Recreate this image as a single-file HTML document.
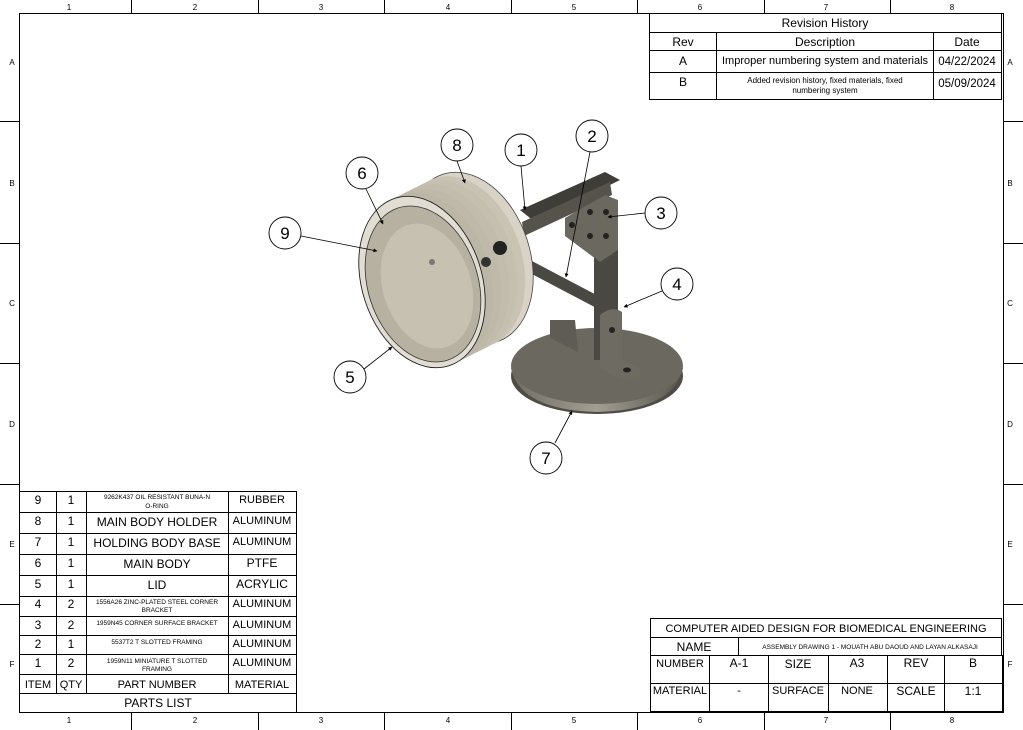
<!DOCTYPE html>
<html><head><style>
body{margin:0;background:#fff;}
svg{display:block;font-family:"Liberation Sans",Arial,sans-serif;}
</style></head><body>
<svg width="1023" height="730" viewBox="0 0 1023 730" xmlns="http://www.w3.org/2000/svg">
<defs>
<linearGradient id="base" x1="0" y1="0" x2="1" y2="0"><stop offset="0" stop-color="#6f6c62"/><stop offset="0.5" stop-color="#a29e92"/><stop offset="1" stop-color="#56544c"/></linearGradient>
<marker id="ar" viewBox="0 0 10 10" refX="9" refY="5" markerWidth="5" markerHeight="5" orient="auto"><path d="M0,0L10,5L0,10z" fill="#000"/></marker>
</defs>
<g stroke="#000" stroke-width="1" fill="none">
<rect x="19.5" y="13.5" width="984" height="699"/>
<path d="M131.5 0V13 M258.5 0V13 M384.5 0V13 M511.5 0V13 M637.5 0V13 M764.5 0V13 M890.5 0V13
M131.5 713V730 M258.5 713V730 M384.5 713V730 M511.5 713V730 M637.5 713V730 M764.5 713V730 M890.5 713V730
M0 121.5H19 M0 243.5H19 M0 363.5H19 M0 484.5H19 M0 604.5H19
M1004 121.5H1023 M1004 243.5H1023 M1004 363.5H1023 M1004 484.5H1023 M1004 604.5H1023"/>
<rect x="649.5" y="13.5" width="352" height="86" fill="#fff"/>
<path d="M649.5 32.5H1001.5 M649.5 50.5H1001.5 M649.5 72.5H1001.5 M716.5 32.5V99.5 M933.5 32.5V99.5"/>
<rect x="19.5" y="491.5" width="277" height="221" fill="#fff"/>
<path d="M19.5 512.5H296.5 M19.5 533.5H296.5 M19.5 554.5H296.5 M19.5 575.5H296.5 M19.5 596.5H296.5 M19.5 616.5H296.5 M19.5 635.5H296.5 M19.5 654.5H296.5 M19.5 674.5H296.5 M19.5 693.5H296.5
M56.5 491.5V693.5 M86.5 491.5V693.5 M228.5 491.5V693.5"/>
<rect x="650.5" y="618.5" width="351" height="37" fill="#fff"/>
<path d="M650.5 637.5H1001.5 M738.5 637.5V655.5"/>
<rect x="650.5" y="655.5" width="352" height="56"/>
<path d="M650.5 683.5H1002.5 M709.5 655.5V711.5 M768.5 655.5V711.5 M828.5 655.5V711.5 M887.5 655.5V711.5 M944.5 655.5V711.5"/>
</g>
<g font-size="8" text-anchor="middle" fill="#000">
<text x="69" y="10">1</text><text x="195" y="10">2</text><text x="321" y="10">3</text><text x="448" y="10">4</text><text x="574" y="10">5</text><text x="700" y="10">6</text><text x="826" y="10">7</text><text x="952" y="10">8</text>
<text x="69" y="723">1</text><text x="195" y="723">2</text><text x="321" y="723">3</text><text x="448" y="723">4</text><text x="574" y="723">5</text><text x="700" y="723">6</text><text x="826" y="723">7</text><text x="952" y="723">8</text>
<text x="12" y="65">A</text><text x="12" y="186">B</text><text x="12" y="306">C</text><text x="12" y="427">D</text><text x="12" y="547">E</text><text x="12" y="667">F</text>
<text x="1010" y="65">A</text><text x="1010" y="186">B</text><text x="1010" y="306">C</text><text x="1010" y="427">D</text><text x="1010" y="547">E</text><text x="1010" y="667">F</text>
</g>
<g font-size="12" text-anchor="middle" fill="#000">
<text x="825" y="27">Revision History</text>
<text x="683" y="46">Rev</text><text x="825" y="46">Description</text><text x="967" y="46">Date</text>
<text x="683" y="65">A</text><text x="825" y="64" font-size="11">Improper numbering system and materials</text><text x="967" y="65" font-size="11.5">04/22/2024</text>
<text x="683" y="86">B</text><text x="967" y="87" font-size="11.5">05/09/2024</text>
<text x="825" y="83" font-size="8">Added revision history, fixed materials, fixed</text>
<text x="825" y="93" font-size="8">numbering system</text>
</g>
<g font-size="12" text-anchor="middle" fill="#000">
<text x="38" y="504">9</text><text x="71" y="504">1</text><text x="262" y="503" font-size="11">RUBBER</text>
<text x="157" y="499" font-size="6.5">9262K437 OIL RESISTANT BUNA-N</text><text x="157" y="508" font-size="6.5">O-RING</text>
<text x="38" y="525">8</text><text x="71" y="525">1</text><text x="157" y="526">MAIN BODY HOLDER</text><text x="262" y="524" font-size="11">ALUMINUM</text>
<text x="38" y="546">7</text><text x="71" y="546">1</text><text x="157" y="547">HOLDING BODY BASE</text><text x="262" y="545" font-size="11">ALUMINUM</text>
<text x="38" y="567">6</text><text x="71" y="567">1</text><text x="157" y="568">MAIN BODY</text><text x="262" y="567">PTFE</text>
<text x="38" y="588">5</text><text x="71" y="588">1</text><text x="157" y="589">LID</text><text x="262" y="588">ACRYLIC</text>
<text x="38" y="608">4</text><text x="71" y="608">2</text><text x="262" y="607" font-size="11">ALUMINUM</text>
<text x="157" y="604" font-size="6.5">1556A26 ZINC-PLATED STEEL CORNER</text><text x="157" y="612" font-size="6.5">BRACKET</text>
<text x="38" y="629">3</text><text x="71" y="629">2</text><text x="157" y="625" font-size="6.5">1959N45 CORNER SURFACE BRACKET</text><text x="262" y="628" font-size="11">ALUMINUM</text>
<text x="38" y="648">2</text><text x="71" y="648">1</text><text x="157" y="644" font-size="6.5">5537T2 T SLOTTED FRAMING</text><text x="262" y="647" font-size="11">ALUMINUM</text>
<text x="38" y="667">1</text><text x="71" y="667">2</text><text x="262" y="666" font-size="11">ALUMINUM</text>
<text x="157" y="663" font-size="6.5">1959N11 MINIATURE T SLOTTED</text><text x="157" y="671" font-size="6.5">FRAMING</text>
<text x="38" y="688" font-size="11">ITEM</text><text x="71" y="688" font-size="11">QTY</text><text x="157" y="688" font-size="11">PART NUMBER</text><text x="262" y="688" font-size="11">MATERIAL</text>
<text x="158" y="707">PARTS LIST</text>
</g>
<g font-size="11" text-anchor="middle" fill="#000">
<text x="826" y="632">COMPUTER AIDED DESIGN FOR BIOMEDICAL ENGINEERING</text>
<text x="694" y="651" font-size="12">NAME</text>
<text x="870" y="649" font-size="6.5">ASSEMBLY DRAWING 1 - MOUATH ABU DAOUD AND LAYAN ALKASAJI</text>
<text x="680" y="667">NUMBER</text><text x="739" y="667" font-size="12">A-1</text><text x="798" y="668" font-size="12">SIZE</text><text x="857" y="667" font-size="12">A3</text><text x="916" y="667" font-size="12">REV</text><text x="973" y="667" font-size="12">B</text>
<text x="680" y="694">MATERIAL</text><text x="739" y="694">-</text><text x="798" y="694">SURFACE</text><text x="857" y="694">NONE</text><text x="916" y="695" font-size="12">SCALE</text><text x="973" y="695" font-size="12">1:1</text>
</g>
<!-- drawing -->
<g>
<ellipse cx="597" cy="376" rx="86" ry="38" fill="#4e4c45"/>
<path d="M511 368 Q520 410 597 412 Q674 410 683 368 Z" fill="url(#base)"/>
<ellipse cx="597" cy="366" rx="86" ry="38" fill="#6b685f"/>
<path d="M520 210 L605 172 L620 180 L535 222 Z" fill="#3f3d38"/>
<path d="M522 222 L610 182 L612 195 L524 236 Z" fill="#55534c"/>
<path d="M530 260 L606 300 L604 312 L528 272 Z" fill="#4a4843"/>
<rect x="594" y="210" width="24" height="150" fill="#4a4843"/>
<path d="M565 218 L605 195 L618 200 L618 250 L600 262 L565 236 Z" fill="#6b6860"/>
<circle cx="590" cy="212" r="3" fill="#222"/><circle cx="606" cy="212" r="3" fill="#222"/><circle cx="590" cy="236" r="3" fill="#222"/><circle cx="606" cy="236" r="3" fill="#222"/><circle cx="572" cy="225" r="3" fill="#222"/>
<path d="M550 320 L575 320 L578 352 L550 338 Z" fill="#5f5c55"/>
<path d="M600 315 Q612 305 622 312 L622 360 L640 368 L640 378 L620 380 L600 368 Z" fill="#6e6b63"/>
<circle cx="612" cy="330" r="3" fill="#222"/><ellipse cx="627" cy="370" rx="4" ry="2.5" fill="#222"/>
<!-- cylinder body: interpolated ellipses from back to front -->
<ellipse cx="470" cy="258" rx="60" ry="88" transform="rotate(-18 470 258)" fill="#d8d3c6" stroke="#444" stroke-width="0.8"/>
<ellipse cx="462" cy="262" rx="60" ry="88" transform="rotate(-18 462 262)" fill="#c9c3b4"/>
<ellipse cx="454" cy="266" rx="60" ry="88" transform="rotate(-18 454 266)" fill="#c5bfb0"/>
<ellipse cx="446" cy="270" rx="60" ry="88" transform="rotate(-18 446 270)" fill="#c2bcad"/>
<ellipse cx="438" cy="274" rx="60" ry="88" transform="rotate(-18 438 274)" fill="#bfb9aa"/>
<ellipse cx="430" cy="278" rx="60" ry="88" transform="rotate(-18 430 278)" fill="#bcb6a7"/>
<ellipse cx="422" cy="282" rx="60" ry="88" transform="rotate(-18 422 282)" fill="#e2ddd2" stroke="#222" stroke-width="0.9"/>
<ellipse cx="423" cy="284" rx="55" ry="80" transform="rotate(-18 423 284)" fill="#b7b1a2" stroke="#333" stroke-width="0.8"/>
<ellipse cx="427" cy="286" rx="44" ry="64" transform="rotate(-18 427 286)" fill="#c7c1b2"/>
<circle cx="432" cy="262" r="3" fill="#777"/>
<circle cx="500" cy="248" r="7" fill="#222"/><circle cx="486" cy="262" r="5" fill="#333"/>
</g>
<g stroke="#000" stroke-width="0.8" fill="none" marker-end="url(#ar)">
<path d="M457 161 L465 183"/>
<path d="M521 166 L525 210"/>
<path d="M590 152 L566 277"/>
<path d="M366 189 L383 224"/>
<path d="M301 236 L377 251"/>
<path d="M645 213 L608 217"/>
<path d="M662 291 L624 307"/>
<path d="M364 369 L392 347"/>
<path d="M555 443 L572 411"/>
</g>
<g fill="#fff" stroke="#000" stroke-width="0.9">
<circle cx="457" cy="145" r="16"/><circle cx="521" cy="150" r="16"/><circle cx="592" cy="136" r="16"/><circle cx="362" cy="173" r="16"/><circle cx="285" cy="233" r="16"/><circle cx="661" cy="213" r="16"/><circle cx="677" cy="284" r="16"/><circle cx="350" cy="377" r="16"/><circle cx="546" cy="458" r="16"/>
</g>
<g font-size="17" text-anchor="middle" fill="#000">
<text x="457" y="151">8</text><text x="521" y="156">1</text><text x="592" y="142">2</text><text x="362" y="179">6</text><text x="285" y="239">9</text><text x="661" y="219">3</text><text x="677" y="290">4</text><text x="350" y="383">5</text><text x="546" y="464">7</text>
</g>
</svg>
</body></html>
